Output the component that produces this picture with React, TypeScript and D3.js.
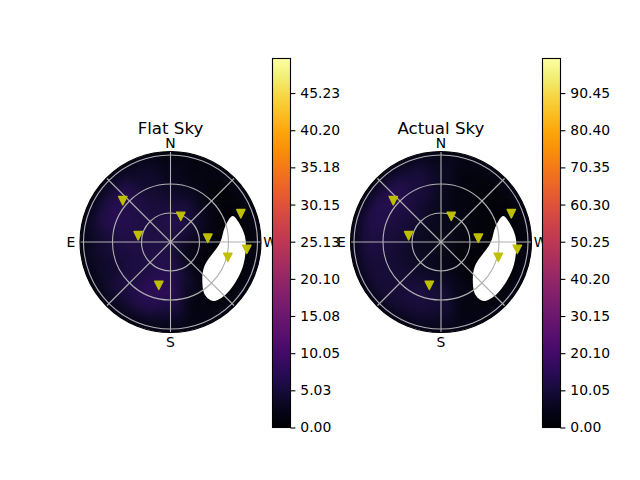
import { useEffect, useRef } from 'react';
import * as d3 from 'd3';

// Sky bins: azimuth centres (deg, N through E) and radial edges (deg from zenith)
const azimuths = [0, 22.5, 45, 67.5, 90, 112.5, 135, 157.5, 180, 202.5, 225, 247.5, 270, 292.5, 315, 337.5];
const radii = [0, 15, 30, 45, 60, 75, 85, 110];

const flatSky = [
  [5.5, 5.5, 5.5, 5.5, 5.5, 5.5, 5.5, 5.5, 5.5, 4.5, 3.5, 3.5, 4, 4.5, 5.5, 5.5],
  [6.5, 5.5, 5.5, 5.5, 5.5, 5.5, 6, 6.5, 6.5, 4.5, 2.2, 1.8, 2.7, 4, 5, 7],
  [5, 5, 5.5, 6, 6, 5.5, 5.5, 6.5, 7, 4.5, 1.3, 0.9, 1.3, 2.7, 4, 5.5],
  [3.5, 4.5, 6, 6.5, 5.5, 5, 5.5, 7.5, 7.5, 3, 0.9, 0.4, 0.4, 0.9, 1.8, 3],
  [2.7, 4, 6.5, 7, 4.5, 4, 5.5, 7, 5.5, 1.7, 0.4, 0.3, 0.3, 0.3, 0.6, 1.7],
  [2, 3.5, 5, 5, 3.5, 3.5, 4, 4, 3, 1.3, 0.5, 0.4, 0.4, 0.4, 0.6, 1.3],
  [1.5, 2, 2, 2, 2, 2, 2, 2, 2, 2, 2, 2, 2, 2, 2, 1.5],
];

const actualSky = [
  [4, 4, 4, 4, 4, 4, 4, 4, 4, 3.2, 3.2, 3.2, 3.2, 3.2, 4, 4],
  [4, 5, 5.5, 5.5, 5.5, 5.5, 5.5, 5, 4, 3.2, 2, 2, 2.4, 3.2, 3.2, 4],
  [5, 7, 9, 9, 8, 7, 7, 7, 6.5, 4, 1.2, 0.8, 1.6, 2, 2.4, 3.2],
  [5.5, 9.5, 11.5, 10.5, 9.5, 9, 9, 10.5, 9.5, 4, 0.8, 0.5, 0.6, 0.8, 2, 2.4],
  [6.5, 10.5, 14, 13, 11, 9.5, 9.5, 10.5, 9, 2.8, 0.6, 0.3, 0.3, 0.6, 1.2, 2.4],
  [5.5, 9, 11, 12, 10.5, 9.5, 9, 8, 6.5, 2.4, 0.8, 0.5, 0.5, 0.5, 1.2, 2.4],
  [4, 4.5, 4.5, 4.5, 4.5, 4.5, 4.5, 4.5, 4.5, 4, 4, 4, 4, 4, 4, 4],
];

// Masked patch of sky, [azimuth, zenith angle]
const maskOutline: [number, number][] = [
  [292.7, 69.7], [286.4, 73.3], [274.1, 77.3], [263.9, 78.2], [253, 79], [243.6, 79.1], [233, 79], [224.7, 78.6],
  [216, 75.5], [213.1, 65.4], [220, 51.2], [235, 43], [269, 51.2], [285.7, 58.6],
];

// Stations, [azimuth, zenith angle]
const stations: [number, number][] = [
  [49.1, 65.3], [79, 34.1], [338.2, 28.6], [275.7, 38.8], [291.9, 78.4], [264.5, 79.3], [255, 61.4], [164.9, 46.4],
];

const flatTicks = [0, 5.03, 10.05, 15.08, 20.1, 25.13, 30.15, 35.18, 40.2, 45.23];
const actualTicks = [0, 10.05, 20.1, 30.15, 40.2, 50.25, 60.3, 70.35, 80.4, 90.45];

const compass: [string, number][] = [['N', 0], ['E', 90], ['S', 180], ['W', 270]];
const rings = [30, 60, 90];
const spokes = [0, 45, 90, 135, 180, 225, 270, 315];

const deg = Math.PI / 180;
// W is on the right, so azimuth runs counter-clockwise
const toAngle = (az: number) => -az * deg;

const drawPanel = (
  svg: d3.Selection<SVGSVGElement, unknown, null, undefined>,
  id: string,
  title: string,
  values: number[][],
  ticks: number[],
  vmax: number,
  cx: number,
  barX: number
) => {
  const r = d3.scaleLinear().domain([0, 90]).range([0, 87]);
  const color = d3.scaleSequential(d3.interpolateInferno).domain([0, vmax]);
  const edge = 90.5;

  const defs = svg.append('defs');
  defs.append('clipPath').attr('id', `clip-${id}`).append('circle').attr('r', edge);
  defs.append('filter').attr('id', `blur-${id}`)
    .attr('x', '-20%').attr('y', '-20%').attr('width', '140%').attr('height', '140%')
    .attr('color-interpolation-filters', 'sRGB')
    .append('feGaussianBlur').attr('stdDeviation', 6);

  const g = svg.append('g').attr('transform', `translate(${cx},242)`);

  const arc = d3.arc<{ az: number; i: number }>()
    .innerRadius(d => r(radii[d.i]))
    .outerRadius(d => r(radii[d.i + 1]))
    .startAngle(d => toAngle(d.az + 11.25))
    .endAngle(d => toAngle(d.az - 11.25));

  g.append('g').attr('clip-path', `url(#clip-${id})`)
    .append('g').attr('filter', `url(#blur-${id})`)
    .selectAll('path')
    .data(values.flatMap((row, i) => row.map((v, j) => ({ v, i, az: azimuths[j] }))))
    .join('path')
    .attr('d', d => arc(d))
    .attr('fill', d => color(d.v))
    .attr('stroke', d => color(d.v))
    .attr('stroke-width', 0.5);

  // Masked patch
  const blob = d3.lineRadial<[number, number]>()
    .angle(d => toAngle(d[0]))
    .radius(d => r(d[1]))
    .curve(d3.curveCatmullRomClosed);
  g.append('path').attr('d', blob(maskOutline)).attr('fill', 'white');

  // Grid
  g.selectAll('circle.ring').data(rings).join('circle')
    .attr('class', 'ring')
    .attr('r', d => r(d))
    .attr('fill', 'none')
    .attr('stroke', '#b0b0b0')
    .attr('stroke-width', 1.1);
  g.selectAll('line.spoke').data(spokes).join('line')
    .attr('class', 'spoke')
    .attr('x2', d => edge * Math.sin(toAngle(d)))
    .attr('y2', d => -edge * Math.cos(toAngle(d)))
    .attr('stroke', '#b0b0b0')
    .attr('stroke-width', 1.1);
  g.append('circle').attr('r', edge).attr('fill', 'none').attr('stroke', 'black').attr('stroke-width', 1.1);

  // Stations
  const tri = 4.2;
  g.selectAll('path.station').data(stations).join('path')
    .attr('class', 'station')
    .attr('d', `M${-tri},${-tri}L${tri},${-tri}L0,${tri}Z`)
    .attr('transform', d => `translate(${r(d[1]) * Math.sin(toAngle(d[0]))},${-r(d[1]) * Math.cos(toAngle(d[0]))})`)
    .attr('fill', '#bfbf00')
    .attr('stroke', '#bfbf00')
    .attr('stroke-width', 1.4)
    .attr('stroke-linejoin', 'round');

  // Compass labels
  g.selectAll('text.compass').data(compass).join('text')
    .attr('class', 'compass')
    .attr('x', d => 99.5 * Math.sin(toAngle(d[1])))
    .attr('y', d => -99.5 * Math.cos(toAngle(d[1])))
    .attr('dy', '0.37em')
    .attr('text-anchor', 'middle')
    .attr('font-size', 13.9)
    .attr('fill', 'black')
    .text(d => d[0]);

  svg.append('text')
    .attr('x', cx)
    .attr('y', 134)
    .attr('text-anchor', 'middle')
    .attr('font-size', 16.67)
    .attr('fill', 'black')
    .text(title);

  // Colour bar
  const grad = defs.append('linearGradient').attr('id', `grad-${id}`)
    .attr('x1', 0).attr('x2', 0).attr('y1', 1).attr('y2', 0);
  d3.range(0, 1.0001, 0.05).forEach(t => {
    grad.append('stop').attr('offset', t).attr('stop-color', d3.interpolateInferno(t));
  });
  const y = d3.scaleLinear().domain([0, vmax]).range([427.5, 58.5]);
  svg.append('rect')
    .attr('x', barX + 0.5).attr('y', 58.5).attr('width', 18).attr('height', 369)
    .attr('fill', `url(#grad-${id})`)
    .attr('stroke', 'black').attr('stroke-width', 1.1);

  const axis = d3.axisRight(y)
    .tickValues(ticks)
    .tickSize(4.9)
    .tickPadding(4.9)
    .tickFormat(d => (+d).toFixed(2));
  const ag = svg.append('g').attr('transform', `translate(${barX + 18.5},0)`).call(axis);
  ag.select('.domain').remove();
  ag.selectAll('text').attr('font-size', 13.9).attr('font-family', 'DejaVu Sans').attr('fill', 'black');
  ag.selectAll('line').attr('stroke', 'black').attr('stroke-width', 1.1);
};

export default function App() {
  const svgRef = useRef<SVGSVGElement>(null);

  useEffect(() => {
    if (!svgRef.current) return;
    const svg = d3.select(svgRef.current);
    svg.selectAll('*').remove();
    drawPanel(svg, 'flat', 'Flat Sky', flatSky, flatTicks, 49.9, 170.5, 272);
    drawPanel(svg, 'actual', 'Actual Sky', actualSky, actualTicks, 99.8, 441, 542);
  }, []);

  return (
    <svg
      ref={svgRef}
      width={640}
      height={480}
      style={{ position: 'absolute', left: 0, top: 0, fontFamily: 'DejaVu Sans', background: 'white' }}
    />
  );
}
